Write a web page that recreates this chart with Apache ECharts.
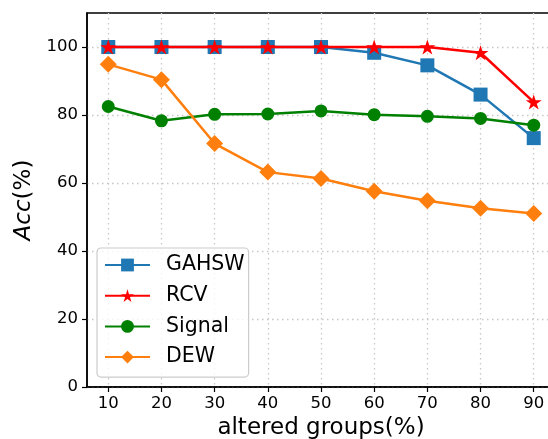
<!DOCTYPE html>
<html><head><meta charset="utf-8">
<script src="https://cdn.jsdelivr.net/npm/echarts@6/dist/echarts.min.js"></script>
<style>html,body{margin:0;padding:0;background:#fff}#c{width:548px;height:439px}</style>
</head><body><div id="c"></div>
<script>
var xValues = [10, 20, 30, 40, 50, 60, 70, 80, 90];
var gahsw  = [100, 100, 100, 100, 100, 98.3, 94.6, 86.0, 73.2];
var rcv    = [100, 100, 100, 100, 100, 100, 100, 98.3, 83.8];
var signal = [82.5, 78.3, 80.2, 80.3, 81.2, 80.1, 79.6, 79.0, 77.0];
var dew    = [94.9, 90.4, 71.6, 63.2, 61.3, 57.6, 54.8, 52.6, 51.0];
var yTicks = [0, 20, 40, 60, 80, 100];
var seriesNames = ['GAHSW', 'RCV', 'Signal', 'DEW'];

function pairs(v){ return xValues.map(function(x,i){ return [x, v[i]]; }); }
var star = 'path://M1,0 L1.2245,0.691 L1.951,0.691 L1.363,1.118 L1.588,1.809 L1,1.382 L0.412,1.809 L0.637,1.118 L0.049,0.691 L0.7755,0.691 Z';
var font = 'DejaVu Sans';
var grid = {type: [1.5, 3.5], color: '#c8c8c8', width: 1.3};

var chart = echarts.init(document.getElementById('c'), null, {renderer: 'canvas'});
chart.setOption({
  animation: false,
  textStyle: {fontFamily: font},
  grid: {left: 87, top: 13, right: -7, bottom: 52, show: true, borderColor: '#000', borderWidth: 1.5,
         containLabel: false, outerBoundsMode: 'none'},
  xAxis: {
    type: 'value', min: 6, max: 94,
    name: 'altered groups(%)', nameLocation: 'middle', nameGap: 25,
    nameTextStyle: {fontFamily: font, fontSize: 23, color: '#000'},
    axisLine: {lineStyle: {color: '#000', width: 1.5}},
    axisTick: {show: true, inside: false, length: 5, lineStyle: {color: '#000', width: 1.2}, customValues: xValues},
    axisLabel: {customValues: xValues, fontFamily: font, fontSize: 16.5, color: '#000', margin: 8},
    splitLine: {show: true, lineStyle: grid}
  },
  yAxis: {
    type: 'value', min: 0, max: 110,
    name: '{i|Acc}{n|(%)}', nameLocation: 'middle', nameGap: 48,
    nameTextStyle: {fontFamily: font, fontSize: 23, color: '#000',
      rich: {i: {fontFamily: font, fontSize: 23, fontStyle: 'italic', color: '#000'}, n: {fontFamily: font, fontSize: 23, color: '#000'}}},
    axisLine: {show: true, lineStyle: {color: '#000', width: 1.5}},
    axisTick: {show: true, inside: false, length: 5, lineStyle: {color: '#000', width: 1.2}, customValues: yTicks},
    axisLabel: {customValues: yTicks, fontFamily: font, fontSize: 16.5, color: '#000', margin: 9},
    splitLine: {show: true, lineStyle: grid}
  },
  legend: {
    orient: 'vertical', left: 97, top: 248,
    data: seriesNames,
    itemWidth: 45, itemHeight: 16, itemGap: 9.7,
    padding: [6.5, 4, 9.5, 7],
    backgroundColor: 'rgba(255,255,255,0.8)', borderColor: '#cccccc', borderWidth: 1.2, borderRadius: 4,
    textStyle: {fontFamily: font, fontSize: 20.5, color: '#000', lineHeight: 21, padding: [0, 0, 0, 11]}
  },
  series: [
    {name: 'GAHSW', type: 'line', data: pairs(gahsw), color: '#1f77b4', symbol: 'rect', symbolSize: 14,
     lineStyle: {width: 2.5}, itemStyle: {color: '#1f77b4'}, z: 2},
    {name: 'RCV', type: 'line', data: pairs(rcv), color: '#ff0000', symbol: star, symbolSize: [16, 15],
     lineStyle: {width: 2.5}, itemStyle: {color: '#ff0000'}, z: 3},
    {name: 'Signal', type: 'line', data: pairs(signal), color: '#008000', symbol: 'circle', symbolSize: 13,
     lineStyle: {width: 2.5}, itemStyle: {color: '#008000'}, z: 4},
    {name: 'DEW', type: 'line', data: pairs(dew), color: '#ff7f0e', symbol: 'diamond', symbolSize: 17,
     lineStyle: {width: 2.5}, itemStyle: {color: '#ff7f0e'}, z: 5}
  ]
});
</script></body></html>
